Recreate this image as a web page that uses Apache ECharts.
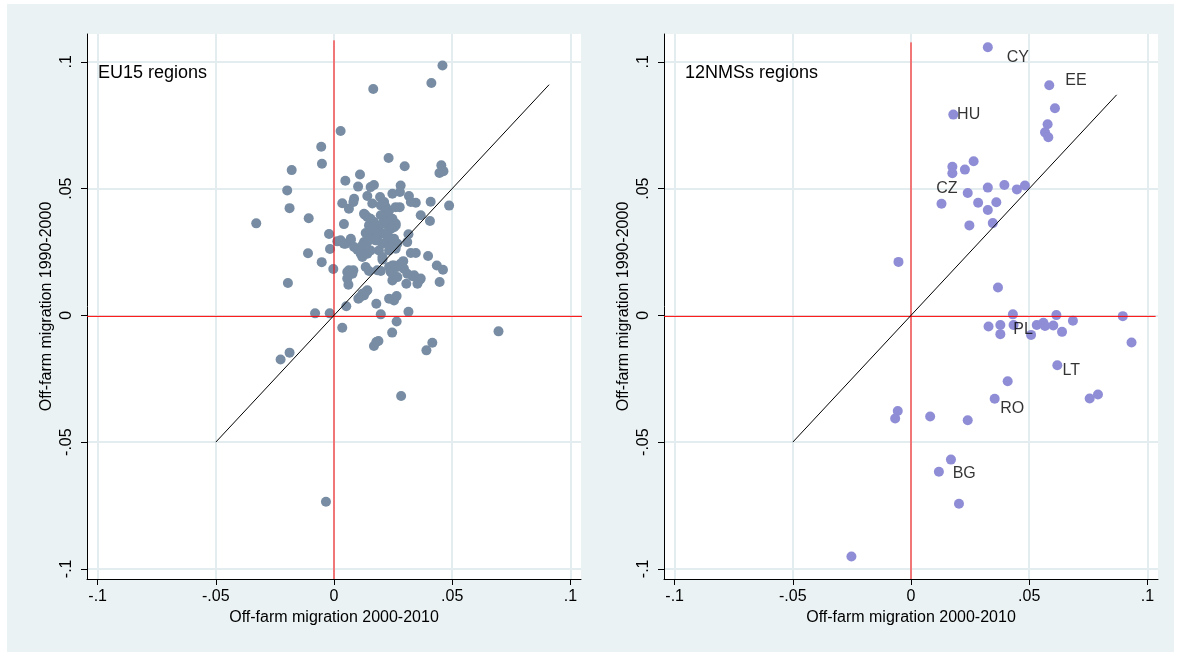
<!DOCTYPE html>
<html>
<head>
<meta charset="utf-8">
<script src="https://cdn.jsdelivr.net/npm/echarts@6/dist/echarts.min.js"></script>
<style>
  html, body { margin: 0; padding: 0; background: #fff; }
  #bg { position: absolute; left: 7px; top: 4px; width: 1167px; height: 648px; background: #eaf2f3; }
  #chart { position: absolute; left: 0; top: 0; width: 1181px; height: 657px; }
</style>
</head>
<body>
<div id="bg"></div>
<div id="chart"></div>
<script>
// EU15 regions: [off-farm migration 2000-2010, off-farm migration 1990-2000]
const eu15Points = [
  [0.0459, 0.0986], [0.0412, 0.0917], [0.0166, 0.0893], [0.0028, 0.0727], [-0.0054, 0.0665],
  [-0.0051, 0.0598], [-0.0179, 0.0573], [0.0231, 0.0621], [0.0299, 0.0588], [0.0454, 0.0592],
  [0.0446, 0.0562], [0.0463, 0.0569], [0.0110, 0.0556], [0.0048, 0.0531], [0.0102, 0.0508],
  [0.0155, 0.0506], [0.0169, 0.0514], [0.0282, 0.0512], [-0.0198, 0.0493], [0.0247, 0.0480],
  [0.0279, 0.0487], [0.0141, 0.0471], [0.0195, 0.0467], [0.0317, 0.0471], [0.0346, 0.0444],
  [0.0325, 0.0447], [0.0409, 0.0448], [0.0487, 0.0433], [0.0035, 0.0442], [0.0085, 0.0460],
  [0.0082, 0.0447], [0.0063, 0.0421], [0.0162, 0.0441], [0.0198, 0.0434], [0.0219, 0.0427],
  [0.0233, 0.0414], [0.0278, 0.0427], [-0.0188, 0.0423], [0.0367, 0.0395], [0.0406, 0.0372],
  [-0.0107, 0.0383], [0.0131, 0.0397], [0.0155, 0.0381], [0.0205, 0.0395], [0.0219, 0.0375],
  [0.0247, 0.0381], [0.0261, 0.0362], [-0.0329, 0.0363], [0.0042, 0.0360], [0.0148, 0.0355],
  [0.0190, 0.0348], [0.0233, 0.0342], [0.0254, 0.0348], [-0.0021, 0.0321], [0.0134, 0.0325],
  [0.0162, 0.0329], [0.0198, 0.0322], [0.0315, 0.0320], [0.0014, 0.0292], [0.0042, 0.0283],
  [0.0071, 0.0296], [0.0127, 0.0289], [0.0155, 0.0302], [0.0183, 0.0296], [0.0226, 0.0296],
  [0.0254, 0.0302], [0.0268, 0.0283], [0.0310, 0.0289], [-0.0017, 0.0262], [0.0099, 0.0259],
  [0.0120, 0.0276], [0.0190, 0.0256], [0.0233, 0.0256], [0.0261, 0.0263], [0.0325, 0.0246],
  [0.0346, 0.0246], [-0.0110, 0.0245], [0.0120, 0.0230], [0.0205, 0.0220], [0.0398, 0.0234],
  [-0.0052, 0.0210], [0.0293, 0.0214], [0.0247, 0.0197], [0.0134, 0.0191], [0.0148, 0.0175],
  [0.0198, 0.0175], [-0.0003, 0.0183], [0.0056, 0.0171], [0.0082, 0.0178], [0.0240, 0.0171],
  [0.0268, 0.0191], [0.0296, 0.0184], [0.0435, 0.0197], [0.0461, 0.0180], [0.0056, 0.0145],
  [0.0061, 0.0121], [0.0247, 0.0138], [0.0306, 0.0125], [0.0332, 0.0154], [0.0353, 0.0125],
  [0.0367, 0.0145], [0.0447, 0.0132], [-0.0195, 0.0128], [0.0141, 0.0099], [0.0127, 0.0079],
  [0.0110, 0.0072], [0.0233, 0.0066], [0.0254, 0.0059], [0.0265, 0.0076], [0.0179, 0.0046],
  [0.0052, 0.0036], [-0.0080, 0.0008], [-0.0018, 0.0008], [0.0198, 0.0004], [0.0315, 0.0014],
  [0.0212, 0.0447], [0.0261, 0.0427], [0.0219, 0.0408], [0.0198, 0.0395], [0.0247, 0.0375],
  [0.0261, 0.0355], [0.0240, 0.0342], [0.0205, 0.0362], [0.0169, 0.0368], [0.0141, 0.0388],
  [0.0155, 0.0335], [0.0183, 0.0329], [0.0212, 0.0322], [0.0233, 0.0309], [0.0254, 0.0296],
  [0.0240, 0.0270], [0.0205, 0.0283], [0.0176, 0.0296], [0.0141, 0.0289], [0.0120, 0.0270],
  [0.0113, 0.0243], [0.0085, 0.0270], [0.0049, 0.0283], [0.0028, 0.0296], [0.0071, 0.0302],
  [0.0141, 0.0243], [0.0155, 0.0256], [0.0127, 0.0401], [0.0205, 0.0230], [0.0183, 0.0178],
  [0.0233, 0.0191], [0.0254, 0.0197], [0.0282, 0.0204], [0.0247, 0.0164], [0.0268, 0.0151],
  [0.0310, 0.0164], [0.0339, 0.0158], [0.0360, 0.0138], [0.0063, 0.0178], [0.0078, 0.0164],
  [0.0120, 0.0085], [0.0134, 0.0092], [0.0103, 0.0066], [0.0035, -0.0049], [0.0265, -0.0024],
  [0.0246, -0.0068], [0.0179, -0.0105], [0.0188, -0.0101], [0.0169, -0.0121], [0.0391, -0.0138],
  [0.0416, -0.0108], [0.0696, -0.0063], [-0.0226, -0.0174], [-0.0188, -0.0147], [0.0284, -0.0318],
  [-0.0034, -0.0735]
];

// 12 new member states regions
const nmsPoints = [
  [0.0325, 0.1058], [0.0585, 0.0908], [0.0609, 0.0817], [0.0179, 0.0792], [0.0578, 0.0754],
  [0.0567, 0.0722], [0.0581, 0.0703], [0.0265, 0.0608], [0.0175, 0.0586], [0.0175, 0.0561],
  [0.0228, 0.0575], [0.0325, 0.0504], [0.0395, 0.0514], [0.0448, 0.0497], [0.0482, 0.0512],
  [0.0240, 0.0483], [0.0129, 0.0440], [0.0284, 0.0444], [0.0361, 0.0446], [0.0325, 0.0416],
  [0.0346, 0.0364], [0.0247, 0.0355], [-0.0053, 0.0211], [0.0368, 0.0110], [0.0431, 0.0004],
  [0.0615, 0.0001], [0.0896, -0.0003], [0.0685, -0.0021], [0.0328, -0.0044], [0.0378, -0.0038],
  [0.0378, -0.0074], [0.0434, -0.0038], [0.0508, -0.0077], [0.0532, -0.0038], [0.0560, -0.0029],
  [0.0567, -0.0042], [0.0602, -0.0040], [0.0639, -0.0065], [0.0933, -0.0107], [0.0619, -0.0197],
  [0.0409, -0.0260], [0.0354, -0.0329], [0.0756, -0.0328], [0.0791, -0.0312], [-0.0056, -0.0377],
  [-0.0067, -0.0407], [0.0081, -0.0399], [0.0240, -0.0414], [0.0169, -0.0569], [0.0118, -0.0617],
  [0.0203, -0.0743], [-0.0252, -0.0951]
];

// country labels (left edge of text, middle)
const nmsLabelNames = ["CY", "EE", "HU", "CZ", "PL", "LT", "RO", "BG"];
const nmsLabelPos = [
  [0.0403, 0.1015], [0.0651, 0.0928], [0.0193, 0.0791], [0.0105, 0.0501],
  [0.0431, -0.0057], [0.0639, -0.0217], [0.0375, -0.0367], [0.0174, -0.0625]
];

const tickValues = [-0.1, -0.05, 0, 0.05, 0.1];
const xRange = [-0.1045, 0.1045];
const yRange = [-0.104, 0.111];

// 45 degree reference lines and zero lines
const eu15Diagonal = [[-0.05, -0.05], [0.091, 0.091]];
const nmsDiagonal = [[-0.05, -0.05], [0.087, 0.087]];
const zeroY = -0.0004;
const eu15HLine = [[-0.1045, zeroY], [0.1075, zeroY]];
const nmsHLine = [[-0.1045, zeroY], [0.1035, zeroY]];
const eu15VLine = [[0, -0.104], [0, 0.1085]];
const nmsVLine = [[0, -0.104], [0, 0.1077]];

const fontFamily = "'Liberation Sans', Arial, sans-serif";

function tickFormat(v) {
  if (Math.abs(v) < 1e-9) return "0";
  const s = String(+v.toFixed(3));
  return s.replace("0.", ".");
}

function makeXAxis(idx) {
  return {
    gridIndex: idx,
    type: "value",
    min: xRange[0],
    max: xRange[1],
    name: "Off-farm migration 2000-2010",
    nameLocation: "middle",
    nameGap: 27,
    nameTextStyle: { fontSize: 16, color: "#000", fontFamily: fontFamily },
    axisLine: { show: true, onZero: false, lineStyle: { color: "#000", width: 1 } },
    axisTick: { show: true, length: 6, customValues: tickValues, lineStyle: { color: "#000" } },
    axisLabel: {
      customValues: tickValues,
      formatter: tickFormat,
      fontSize: 16,
      color: "#000",
      fontFamily: fontFamily,
      margin: 10
    },
    splitLine: { show: true, lineStyle: { color: "#e3ecef", width: 2 } }
  };
}

function makeYAxis(idx) {
  return {
    gridIndex: idx,
    type: "value",
    min: yRange[0],
    max: yRange[1],
    name: "Off-farm migration 1990-2000",
    nameLocation: "middle",
    nameGap: 32,
    nameTextStyle: { fontSize: 16, color: "#000", fontFamily: fontFamily },
    axisLine: { show: true, onZero: false, lineStyle: { color: "#000", width: 1 } },
    axisTick: { show: true, length: 6, customValues: tickValues, lineStyle: { color: "#000" } },
    axisLabel: {
      customValues: tickValues,
      formatter: tickFormat,
      rotate: 90,
      fontSize: 16,
      color: "#000",
      fontFamily: fontFamily,
      margin: 12
    },
    splitLine: { show: true, lineStyle: { color: "#e3ecef", width: 2 } }
  };
}

function refLine(data, idx, color) {
  return {
    type: "line",
    xAxisIndex: idx,
    yAxisIndex: idx,
    data: data,
    symbol: "none",
    silent: true,
    clip: false,
    z: 5,
    lineStyle: { color: color, width: 1 }
  };
}

const option = {
  animation: false,
  title: [
    {
      text: "EU15 regions", left: 98, top: 64, padding: 0,
      textStyle: { fontSize: 18, fontWeight: "normal", color: "#000", fontFamily: fontFamily }
    },
    {
      text: "12NMSs regions", left: 685, top: 64, padding: 0,
      textStyle: { fontSize: 18, fontWeight: "normal", color: "#000", fontFamily: fontFamily }
    }
  ],
  grid: [
    { left: 87, top: 34, width: 494, height: 545, show: true, backgroundColor: "#fff", borderWidth: 0 },
    { left: 664, top: 34, width: 494, height: 545, show: true, backgroundColor: "#fff", borderWidth: 0 }
  ],
  xAxis: [makeXAxis(0), makeXAxis(1)],
  yAxis: [makeYAxis(0), makeYAxis(1)],
  series: [
    {
      name: "EU15",
      type: "scatter",
      xAxisIndex: 0,
      yAxisIndex: 0,
      data: eu15Points,
      symbolSize: 10,
      clip: false,
      itemStyle: { color: "#788da3", opacity: 1 }
    },
    refLine(eu15VLine, 0, "#ff0000"),
    refLine(eu15HLine, 0, "#ff0000"),
    refLine(eu15Diagonal, 0, "#000"),
    {
      name: "12NMS",
      type: "scatter",
      xAxisIndex: 1,
      yAxisIndex: 1,
      data: nmsPoints,
      symbolSize: 10,
      clip: false,
      itemStyle: { color: "#8f8dd6", opacity: 1 }
    },
    refLine(nmsVLine, 1, "#ff0000"),
    refLine(nmsHLine, 1, "#ff0000"),
    refLine(nmsDiagonal, 1, "#000"),
    {
      name: "labels",
      type: "scatter",
      xAxisIndex: 1,
      yAxisIndex: 1,
      silent: true,
      clip: false,
      z: 6,
      symbolSize: 1,
      itemStyle: { color: "rgba(0,0,0,0)" },
      data: nmsLabelNames.map((n, i) => ({ name: n, value: nmsLabelPos[i] })),
      label: {
        show: true,
        position: "right",
        distance: 0,
        formatter: "{b}",
        fontSize: 16,
        color: "#000",
        fontFamily: fontFamily
      }
    }
  ]
};

const myChart = echarts.init(document.getElementById("chart"));
myChart.setOption(option);
</script>
</body>
</html>
